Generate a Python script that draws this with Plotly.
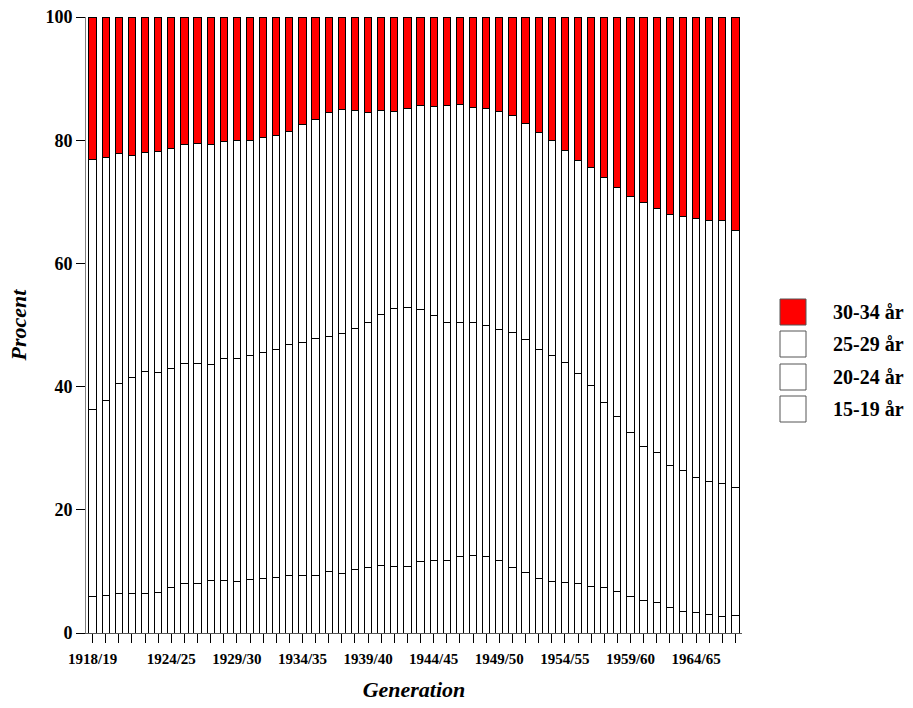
import plotly.graph_objects as go

generations = [f"{y}/{str(y + 1)[-2:]}" for y in range(1918, 1968)]

labelled = ["1918/19", "1924/25", "1929/30", "1934/35", "1939/40",
            "1944/45", "1949/50", "1954/55", "1959/60", "1964/65"]

series_names = ["15-19 år", "20-24 år", "25-29 år", "30-34 år"]

age_15_19 = [6.0, 6.1, 6.4, 6.4, 6.4, 6.5, 7.4, 8.0, 8.1, 8.5,
             8.5, 8.4, 8.7, 8.8, 9.0, 9.3, 9.4, 9.4, 10.0, 9.7,
             10.3, 10.7, 10.9, 10.8, 10.8, 11.6, 11.7, 11.8, 12.4, 12.6,
             12.4, 11.8, 10.6, 9.8, 8.9, 8.4, 8.2, 8.1, 7.6, 7.4,
             6.8, 6.0, 5.3, 4.9, 4.2, 3.5, 3.3, 3.0, 2.7, 2.9]

age_20_24 = [30.3, 31.7, 34.1, 35.0, 36.0, 35.8, 35.6, 35.7, 35.7, 35.1,
             36.0, 36.2, 36.4, 36.8, 37.1, 37.6, 37.7, 38.4, 38.2, 39.0,
             39.1, 39.7, 40.8, 41.8, 42.0, 40.9, 39.8, 38.6, 38.0, 37.8,
             37.6, 37.4, 38.2, 37.8, 37.1, 36.6, 35.7, 34.0, 32.6, 30.1,
             28.4, 26.5, 25.0, 24.4, 23.0, 22.8, 22.0, 21.6, 21.6, 20.8]

age_25_29 = [40.6, 39.4, 37.4, 36.1, 35.6, 35.9, 35.6, 35.6, 35.7, 35.7,
             35.3, 35.3, 34.8, 34.8, 34.6, 34.5, 35.5, 35.6, 36.3, 36.3,
             35.4, 34.1, 33.1, 32.1, 32.4, 33.2, 34.0, 35.3, 35.4, 34.9,
             35.1, 35.5, 35.2, 35.1, 35.3, 35.0, 34.5, 34.6, 35.4, 36.5,
             37.2, 38.3, 39.6, 39.6, 40.8, 41.3, 42.0, 42.3, 42.6, 41.7]

age_30_34 = [23.1, 22.8, 22.1, 22.5, 22.0, 21.8, 21.4, 20.7, 20.5, 20.7,
             20.2, 20.1, 20.1, 19.6, 19.3, 18.6, 17.4, 16.6, 15.5, 15.0,
             15.2, 15.5, 15.2, 15.3, 14.8, 14.3, 14.5, 14.3, 14.2, 14.7,
             14.9, 15.3, 16.0, 17.3, 18.7, 20.0, 21.6, 23.3, 24.4, 26.0,
             27.6, 29.2, 30.1, 31.1, 32.0, 32.4, 32.7, 33.1, 33.1, 34.6]

series_values = [age_15_19, age_20_24, age_25_29, age_30_34]
series_colors = ["#ffffff", "#ffffff", "#ffffff", "#ff0000"]

FONT = "Liberation Serif"

fig = go.Figure()
for name, vals, col in zip(series_names, series_values, series_colors):
    fig.add_trace(go.Bar(
        x=generations, y=vals, name=name,
        marker=dict(color=col, line=dict(color="#000000", width=1)),
        showlegend=False,
    ))

ticktext = [g if g in labelled else "" for g in generations]

fig.update_layout(
    width=913, height=708,
    barmode="stack", bargap=0.45,
    plot_bgcolor="white", paper_bgcolor="white",
    margin=dict(l=86, r=171, t=17, b=75),
    font=dict(family=FONT, color="black"),
    xaxis=dict(
        type="category", tickmode="array", tickvals=generations, ticktext=ticktext,
        ticks="outside", ticklen=9, tickcolor="#000", showline=True,
        linecolor="#555", linewidth=1, showgrid=False, tickangle=0,
        ticklabelstandoff=3, automargin=False,
        tickfont=dict(family=FONT, size=15, weight="bold"),
        title=dict(text="Generation", standoff=15,
                   font=dict(family=FONT, size=22, style="italic", weight="bold")),
    ),
    yaxis=dict(
        range=[0, 100], tickvals=[0, 20, 40, 60, 80, 100],
        ticks="outside", ticklen=9, tickcolor="#000", showline=True,
        linecolor="#808080", linewidth=1, showgrid=False, zeroline=False,
        automargin=False,
        tickfont=dict(family=FONT, size=18, weight="bold"),
        title=dict(text="Procent", standoff=12,
                   font=dict(family=FONT, size=22, style="italic", weight="bold")),
    ),
)

# legend drawn as squares with labels (top series first); coordinates in screen px
PX_L, PX_W, PX_B, PX_H = 86, 656, 633, 616
legend_x0, legend_x1 = 780, 806
legend_tops = [299, 331, 364, 396]
for name, col, top in zip(reversed(series_names), reversed(series_colors), legend_tops):
    fig.add_shape(type="rect", xref="paper", yref="paper",
                  x0=(legend_x0 - PX_L) / PX_W, x1=(legend_x1 - PX_L) / PX_W,
                  y0=(PX_B - top - 26) / PX_H, y1=(PX_B - top) / PX_H,
                  fillcolor=col, line=dict(color="#555", width=1))
    fig.add_annotation(xref="paper", yref="paper",
                       x=(831 - PX_L) / PX_W, y=(PX_B - top - 13) / PX_H,
                       xanchor="left", yanchor="middle", showarrow=False,
                       text=name, font=dict(family=FONT, size=20, weight="bold", color="black"))

fig.write_html("out.html", config={"displayModeBar": False},
               post_script="document.body.style.margin='0';")
